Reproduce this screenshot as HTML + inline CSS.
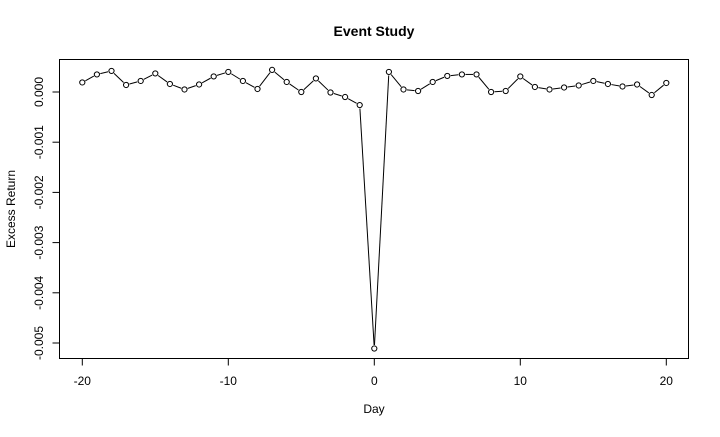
<!DOCTYPE html>
<html><head><meta charset="utf-8"><style>
html,body{margin:0;padding:0;background:#fff;}
svg text{font-family:"Liberation Sans",Arial,sans-serif;}
</style></head><body>
<svg id="chart" width="720" height="432" xmlns="http://www.w3.org/2000/svg">
<rect x="0" y="0" width="720" height="432" fill="#fff"/>
<text x="374" y="36" text-anchor="middle" font-size="14" font-weight="bold">Event Study</text>
<rect x="59.5" y="59.5" width="629" height="299" fill="none" stroke="#000" stroke-width="1"/>
<g id="xaxis"></g>
<g id="yaxis"></g>
<text x="374" y="413" text-anchor="middle" font-size="12">Day</text>
<text transform="translate(15,209) rotate(-90)" text-anchor="middle" font-size="12">Excess Return</text>
<g id="series"></g>
</svg>
<script>
const days = [-20,-19,-18,-17,-16,-15,-14,-13,-12,-11,-10,-9,-8,-7,-6,-5,-4,-3,-2,-1,0,1,2,3,4,5,6,7,8,9,10,11,12,13,14,15,16,17,18,19,20];
const excessReturn = [0.00019,0.00035,0.00042,0.00014,0.00022,0.00037,0.00016,0.00005,0.00015,0.00031,0.0004,0.00022,0.00006,0.00044,0.0002,0.0,0.00027,-0.00001,-0.0001,-0.00026,-0.00511,0.0004,0.00005,0.00002,0.0002,0.00032,0.00035,0.00035,0.0,0.00002,0.00031,0.0001,0.00005,0.00009,0.00013,0.00022,0.00016,0.00011,0.00015,-0.00006,0.00018];
const xTicks = [-20,-10,0,10,20];
const yTicks = [0,-0.001,-0.002,-0.003,-0.004,-0.005];
const yTickLabels = ["0.000","-0.001","-0.002","-0.003","-0.004","-0.005"];

const NS="http://www.w3.org/2000/svg";
const xs = d => 374.3 + d*14.6;
const ys = v => 92 - v*50200;
function mk(tag, attrs, parent){const e=document.createElementNS(NS,tag);for(const k in attrs)e.setAttribute(k,attrs[k]);parent.appendChild(e);return e;}
const xa=document.getElementById('xaxis'), ya=document.getElementById('yaxis'), s=document.getElementById('series');
xTicks.forEach(t=>{
  const l=mk('line',{x1:xs(t),x2:xs(t),y1:358.5,y2:365.5,stroke:'#000'},xa);
  
  
  const tx=mk('text',{x:xs(t),y:385,'text-anchor':'middle','font-size':12},xa);
  tx.textContent=t;
  
  
});
yTicks.forEach((t,i)=>{
  const l=mk('line',{x1:52.5,x2:59.5,y1:ys(t),y2:ys(t),stroke:'#000'},ya);
  
  
  const tx=mk('text',{transform:`translate(43,${ys(t)}) rotate(-90)`,'text-anchor':'middle','font-size':12},ya);
  tx.textContent=yTickLabels[i];
  
  
});
const pts=days.map((d,i)=>[xs(d),ys(excessReturn[i])]);
// segments with gaps around circles like R type="b"
pts.forEach((p,i)=>{
  if(i===0)return;
  const q=pts[i-1];const dx=p[0]-q[0],dy=p[1]-q[1];const L=Math.hypot(dx,dy);const g=3.5;
  if(L<=2*g)return;
  const seg=mk('line',{x1:q[0]+dx/L*g,y1:q[1]+dy/L*g,x2:p[0]-dx/L*g,y2:p[1]-dy/L*g,stroke:'#000','stroke-width':1},s);
  
  
});
pts.forEach(p=>{
  const c=mk('circle',{cx:p[0],cy:p[1],r:2.6,fill:'none',stroke:'#000','stroke-width':1},s);
  
  
});
</script>
</body></html>
